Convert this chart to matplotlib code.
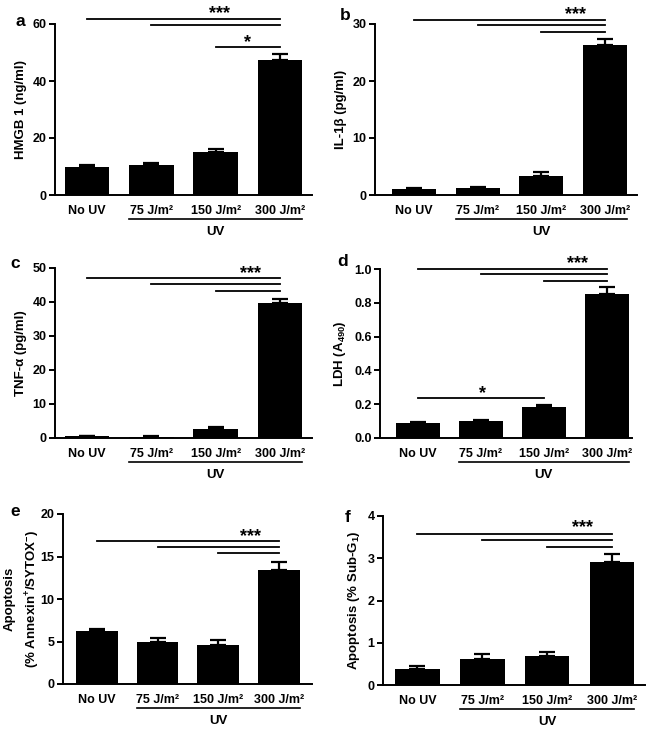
import matplotlib
matplotlib.use("Agg")
import matplotlib.pyplot as plt
import matplotlib.transforms as mtransforms
import numpy as np

plt.rcParams["font.family"] = ["Liberation Sans", "DejaVu Sans"]
plt.rcParams["font.weight"] = "bold"
plt.rcParams["mathtext.fontset"] = "custom"
plt.rcParams["mathtext.rm"] = "Liberation Sans:bold"
plt.rcParams["mathtext.bf"] = "Liberation Sans:bold"
plt.rcParams["mathtext.it"] = "Liberation Sans:bold"

groups = ["No UV", "75 J/m²", "150 J/m²", "300 J/m²"]

hmgb1 = [10.0, 10.5, 15.1, 47.3]
hmgb1_err = [0.5, 0.7, 1.0, 2.2]

il1b = [1.0, 1.2, 3.4, 26.4]
il1b_err = [0.15, 0.2, 0.55, 1.0]

tnfa = [0.5, 0.4, 2.5, 39.8]
tnfa_err = [0.2, 0.2, 0.6, 1.0]

ldh = [0.09, 0.10, 0.185, 0.855]
ldh_err = [0.005, 0.006, 0.01, 0.04]

annexin = [6.2, 4.9, 4.6, 13.4]
annexin_err = [0.25, 0.55, 0.6, 1.0]

subg1 = [0.37, 0.61, 0.69, 2.9]
subg1_err = [0.08, 0.12, 0.08, 0.21]

W, H = 654, 737
fig = plt.figure(figsize=(W / 100, H / 100), dpi=100)


def px_axes(left, right, top, bottom):
    """Axes rect from pixel edges (top/bottom measured from image top)."""
    return fig.add_axes([left / W, 1 - bottom / H, (right - left) / W, (bottom - top) / H])


def draw_panel(ax, values, errors, ylim, yticks, ylabel, letter, letter_xy,
               xlim, comparisons, stars, fmt=None):
    x = np.arange(len(values))
    width = 0.69
    ax.bar(x, values, width=width, color="black", zorder=2)
    ax.errorbar(x, values, yerr=[np.zeros(len(errors)), errors], fmt="none",
                ecolor="black", elinewidth=1.6, capsize=5.5, capthick=1.6, zorder=1)
    ax.set_xlim(*xlim)
    ax.set_ylim(*ylim)
    ax.set_yticks(yticks)
    if fmt:
        ax.set_yticklabels([fmt.format(t) for t in yticks])
    ax.set_xticks(x)
    ax.set_xticklabels(groups)
    ax.tick_params(axis="x", length=0, pad=7, labelsize=9)
    ax.tick_params(axis="y", length=4, width=1.4, pad=2, labelsize=9)
    for s in ["top", "right"]:
        ax.spines[s].set_visible(False)
    for s in ["left", "bottom"]:
        ax.spines[s].set_linewidth(1.4)
    ax.set_ylabel(ylabel, fontsize=9.5, fontweight="bold", labelpad=4, linespacing=1.6)

    # significance lines
    for i0, i1, y in comparisons:
        ax.plot([x[i0], x[i1]], [y, y], color="black", lw=1.3, clip_on=False)
    for txt, sx, sy in stars:
        ax.text(sx, sy, txt, ha="center", va="center", fontsize=13, fontweight="bold",
                clip_on=False)

    # UV bracket under the x axis
    trans = mtransforms.blended_transform_factory(ax.transData, ax.transAxes)
    hgt = ax.get_position().height * H
    yb = -24 / hgt
    ax.plot([1 - width / 2, 3 + width / 2], [yb, yb], color="black", lw=1.2,
            transform=trans, clip_on=False)
    ax.text(2, -37 / hgt, "UV", transform=trans, ha="center", va="center",
            fontsize=9.5, fontweight="bold")

    fig.text(letter_xy[0] / W, 1 - letter_xy[1] / H, letter, fontsize=12.5,
             fontweight="bold", ha="center", va="center")


ax_a = px_axes(55, 312, 24, 195)
draw_panel(ax_a, hmgb1, hmgb1_err, (0, 60), [0, 20, 40, 60], "HMGB 1 (ng/ml)",
           "a", (20, 22), (-0.5, 3.5),
           [(0, 3, 61.75), (1, 3, 59.6), (2, 3, 52.0)],
           [("***", 2.06, 63.6), ("*", 2.49, 53.4)])

ax_b = px_axes(375, 637, 24, 195)
draw_panel(ax_b, il1b, il1b_err, (0, 30), [0, 10, 20, 30], "IL-1β (pg/ml)",
           "b", (345, 15), (-0.61, 3.5),
           [(0, 3, 30.75), (1, 3, 29.8), (2, 3, 28.6)],
           [("***", 2.53, 31.7)])

ax_c = px_axes(55, 312, 268, 438)
draw_panel(ax_c, tnfa, tnfa_err, (0, 50), [0, 10, 20, 30, 40, 50], "TNF-α (pg/ml)",
           "c", (15, 264), (-0.5, 3.5),
           [(0, 3, 47.1), (1, 3, 45.3), (2, 3, 43.1)],
           [("***", 2.54, 48.4)])

ax_d = px_axes(380, 632, 269, 438)
draw_panel(ax_d, ldh, ldh_err, (0, 1.0), [0.0, 0.2, 0.4, 0.6, 0.8, 1.0],
           "LDH (A$_{490}$)", "d", (343, 262), (-0.6, 3.4),
           [(0, 3, 1.0), (1, 3, 0.97), (2, 3, 0.927), (0, 2, 0.234)],
           [("***", 2.54, 1.03), ("*", 1.03, 0.262)], fmt="{:.1f}")

ax_e = px_axes(63, 312, 514, 684)
draw_panel(ax_e, annexin, annexin_err, (0, 20), [0, 5, 10, 15, 20],
           "Apoptosis\n(% Annexin$^{+}$/SYTOX$^{-}$)", "e", (15, 512), (-0.56, 3.55),
           [(0, 3, 16.8), (1, 3, 16.1), (2, 3, 15.4)],
           [("***", 2.53, 17.4)])
ax_e.yaxis.set_label_coords(-21 / 249, 0.5)

ax_f = px_axes(383, 645, 516, 685)
draw_panel(ax_f, subg1, subg1_err, (0, 4), [0, 1, 2, 3, 4],
           "Apoptosis (% Sub-G$_1$)", "f", (348, 517), (-0.53, 3.51),
           [(0, 3, 3.58), (1, 3, 3.43), (2, 3, 3.27)],
           [("***", 2.55, 3.72)])

fig.savefig("out.png", dpi=100)
